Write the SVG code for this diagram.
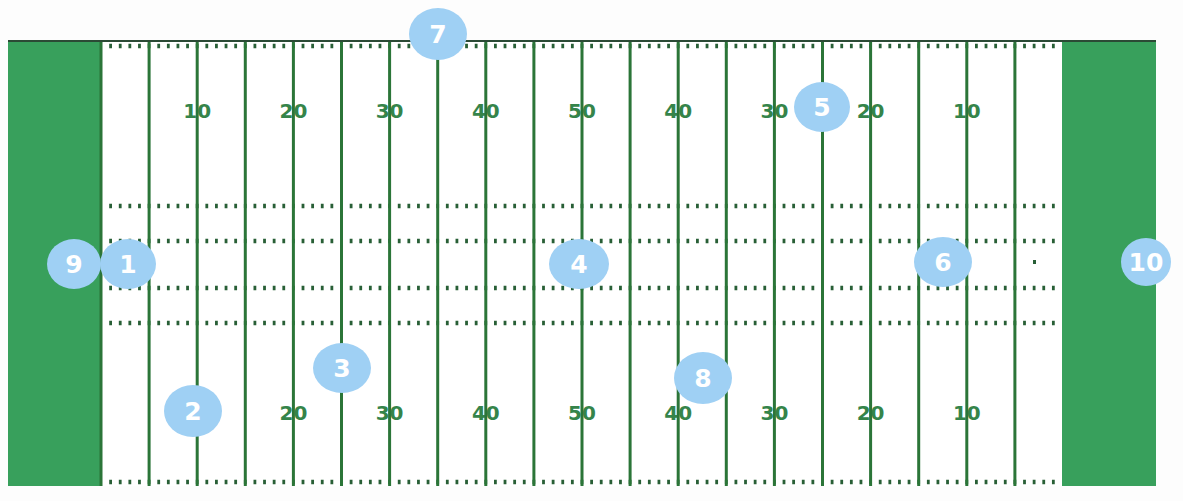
<svg xmlns="http://www.w3.org/2000/svg" width="1183" height="501" viewBox="0 0 1183 501">
<defs>
<style>
.ez{fill:#38a05c}
.yl{stroke:#2b7538;stroke-width:3}
.hash{stroke:#285f36;stroke-width:4.5;stroke-dasharray:2.8 6.82}
.num{font-family:"DejaVu Sans",sans-serif;font-weight:bold;font-size:20px;fill:#35844a;text-anchor:middle}
.mk{fill:#9fd0f4}
.mt{font-family:"DejaVu Sans",sans-serif;font-weight:bold;font-size:25px;fill:#ffffff;text-anchor:middle}
</style>
</defs>
<rect width="1183" height="501" fill="#fdfdfd"/>
<g id="field">
<rect x="101" y="41" width="961" height="445" fill="#ffffff"/>
<rect class="ez" x="8" y="41" width="93" height="445"/>
<rect class="ez" x="1062" y="41" width="94" height="445"/>
<g id="hashes">
<line class="hash" x1="109.2" y1="46" x2="1055" y2="46"/>
<line class="hash" x1="109.2" y1="206" x2="1055" y2="206"/>
<line class="hash" x1="109.2" y1="241" x2="1055" y2="241"/>
<line class="hash" x1="109.2" y1="288" x2="1055" y2="288"/>
<line class="hash" x1="109.2" y1="323" x2="1055" y2="323"/>
<line class="hash" x1="109.2" y1="482" x2="1055" y2="482"/>
<rect x="1033" y="260" width="3" height="4" fill="#285f36"/>
</g>
<g id="numbers">
<text class="num" x="197.2" y="118">10</text>
<text class="num" x="293.4" y="118">20</text>
<text class="num" x="389.6" y="118">30</text>
<text class="num" x="485.8" y="118">40</text>
<text class="num" x="582" y="118">50</text>
<text class="num" x="678.2" y="118">40</text>
<text class="num" x="774.4" y="118">30</text>
<text class="num" x="870.6" y="118">20</text>
<text class="num" x="966.8" y="118">10</text>
<text class="num" x="293.4" y="420">20</text>
<text class="num" x="389.6" y="420">30</text>
<text class="num" x="485.8" y="420">40</text>
<text class="num" x="582" y="420">50</text>
<text class="num" x="678.2" y="420">40</text>
<text class="num" x="774.4" y="420">30</text>
<text class="num" x="870.6" y="420">20</text>
<text class="num" x="966.8" y="420">10</text>
</g>
<g id="yardlines">
<line class="yl" x1="101" y1="41" x2="101" y2="486" stroke-width="1.5"/>
<line class="yl" x1="149.1" y1="41" x2="149.1" y2="486"/>
<line class="yl" x1="197.2" y1="41" x2="197.2" y2="486"/>
<line class="yl" x1="245.3" y1="41" x2="245.3" y2="486"/>
<line class="yl" x1="293.4" y1="41" x2="293.4" y2="486"/>
<line class="yl" x1="341.5" y1="41" x2="341.5" y2="486"/>
<line class="yl" x1="389.6" y1="41" x2="389.6" y2="486"/>
<line class="yl" x1="437.7" y1="41" x2="437.7" y2="486"/>
<line class="yl" x1="485.8" y1="41" x2="485.8" y2="486"/>
<line class="yl" x1="533.9" y1="41" x2="533.9" y2="486"/>
<line class="yl" x1="582" y1="41" x2="582" y2="486"/>
<line class="yl" x1="630.1" y1="41" x2="630.1" y2="486"/>
<line class="yl" x1="678.2" y1="41" x2="678.2" y2="486"/>
<line class="yl" x1="726.3" y1="41" x2="726.3" y2="486"/>
<line class="yl" x1="774.4" y1="41" x2="774.4" y2="486"/>
<line class="yl" x1="822.5" y1="41" x2="822.5" y2="486"/>
<line class="yl" x1="870.6" y1="41" x2="870.6" y2="486"/>
<line class="yl" x1="918.7" y1="41" x2="918.7" y2="486"/>
<line class="yl" x1="966.8" y1="41" x2="966.8" y2="486"/>
<line class="yl" x1="1014.9" y1="41" x2="1014.9" y2="486"/>
</g>
<line x1="8" y1="41" x2="1156" y2="41" stroke="#2b4a35" stroke-width="2"/>
</g>
<g id="connectors"></g>
<g id="marker-1"><ellipse class="mk" cx="128" cy="264" rx="28" ry="25"/><text class="mt" x="128" y="273">1</text></g>
<g id="marker-2"><ellipse class="mk" cx="193" cy="411" rx="29" ry="26"/><text class="mt" x="193" y="420">2</text></g>
<g id="marker-3"><ellipse class="mk" cx="342" cy="368" rx="29" ry="25"/><text class="mt" x="342" y="377">3</text></g>
<g id="marker-4"><ellipse class="mk" cx="579" cy="264" rx="30" ry="25"/><text class="mt" x="579" y="273">4</text></g>
<g id="marker-5"><ellipse class="mk" cx="822" cy="107" rx="28" ry="25"/><text class="mt" x="822" y="116">5</text></g>
<g id="marker-6"><ellipse class="mk" cx="943" cy="262" rx="29" ry="25"/><text class="mt" x="943" y="271">6</text></g>
<g id="marker-7"><ellipse class="mk" cx="438" cy="34" rx="29" ry="26"/><text class="mt" x="438" y="43">7</text></g>
<g id="marker-8"><ellipse class="mk" cx="703" cy="378" rx="29" ry="26"/><text class="mt" x="703" y="387">8</text></g>
<g id="marker-9"><ellipse class="mk" cx="74" cy="264" rx="27" ry="25"/><text class="mt" x="74" y="273">9</text></g>
<g id="marker-10"><ellipse class="mk" cx="1146" cy="262" rx="25" ry="24"/><text class="mt" x="1146" y="271">10</text></g>
</svg>
